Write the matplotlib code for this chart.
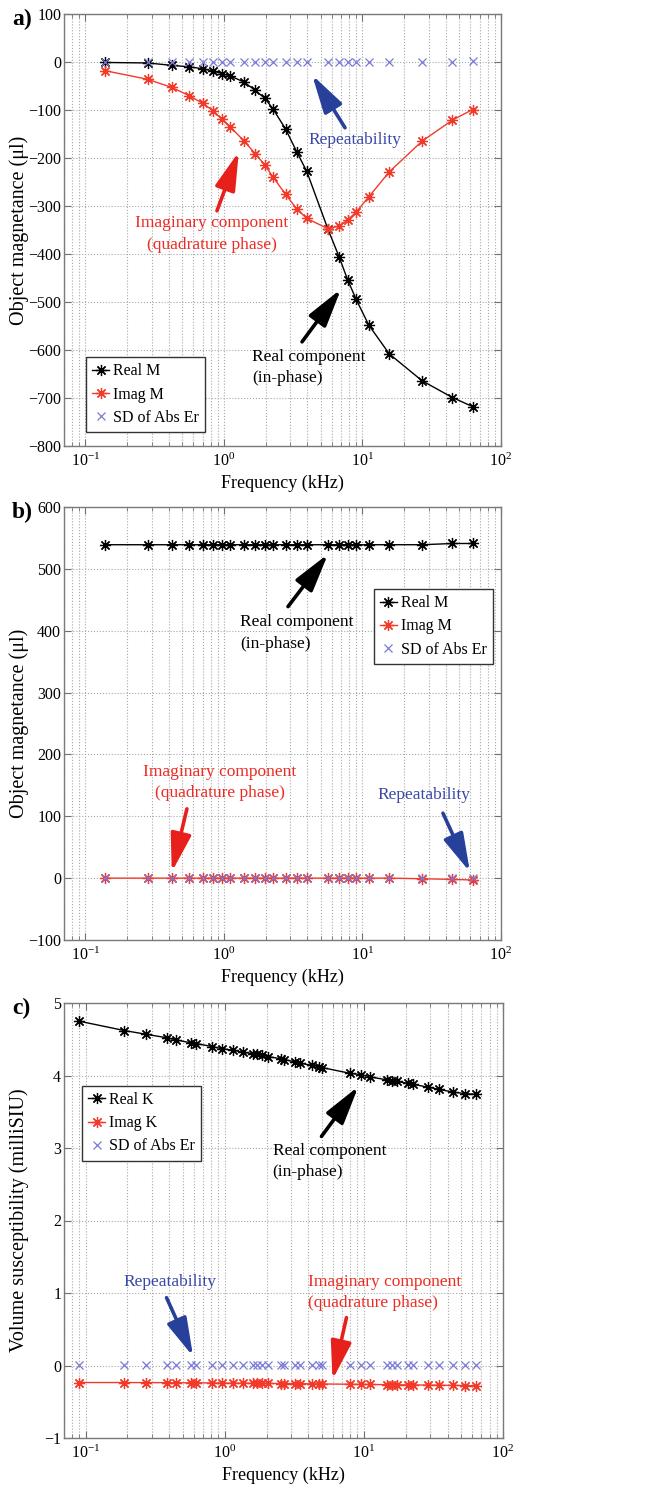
import numpy as np
import matplotlib
matplotlib.use('Agg')
import matplotlib.pyplot as plt
from matplotlib.lines import Line2D

plt.rcParams['font.family'] = ['Liberation Serif', 'DejaVu Serif']
plt.rcParams['mathtext.fontset'] = 'stix'

# --- data (kHz) ---
freq_ab = [0.138, 0.281, 0.42, 0.56, 0.70, 0.84, 0.96, 1.11, 1.40, 1.68, 1.98, 2.25,
           2.79, 3.35, 3.96, 5.61, 6.78, 7.82, 8.98, 11.1, 15.6, 26.9, 44.6, 62.5]

real_a = [-1, -2, -7, -10, -14, -19, -24, -29, -42, -59, -76, -97,
          -140, -187, -228, -347, -406, -454, -494, -548, -608, -664, -699, -718]
imag_a = [-18, -36, -53, -70, -86, -102, -119, -135, -165, -191, -215, -239,
          -276, -306, -326, -347, -342, -329, -313, -281, -229, -165, -121, -99]
sd_a = [1, 1, 1, 1, 1, 1, 1, 1, 1, 1, 1, 1,
        1, 1, 1, 1, 1, 1, 1, 1, 1, 1, 1, 2]

real_b = [539, 539, 539, 539, 539, 539, 539, 539, 539, 539, 539, 539,
          539, 539, 539, 539, 539, 539, 539, 539, 539, 539, 541, 541]
imag_b = [0, 0, 0, 0, 0, 0, 0, 0, 0, 0, 0, 0,
          0, 0, 0, 0, 0, 0, 0, 0, 0, -1, -2, -3]
sd_b = [0, 0, 0, 0, 0, 0, 0, 0, 0, 0, 0, 0,
        0, 0, 0, 0, 0, 0, 0, 0, 0, 0, 0, 0]

freq_c = [0.0897, 0.19, 0.27, 0.385, 0.45, 0.573, 0.627, 0.807, 0.95, 1.15, 1.35, 1.61,
          1.71, 1.85, 2.06, 2.55, 2.66, 3.18, 3.45, 4.23, 4.80, 4.99, 7.97, 9.57,
          11.15, 14.6, 15.96, 17.3, 20.7, 22.4, 28.7, 34.5, 43.9, 53.6, 63.9]
real_c = [4.75, 4.62, 4.57, 4.52, 4.49, 4.45, 4.44, 4.40, 4.37, 4.35, 4.32, 4.30,
          4.29, 4.28, 4.26, 4.23, 4.22, 4.19, 4.17, 4.14, 4.12, 4.11, 4.03, 4.01,
          3.98, 3.94, 3.93, 3.92, 3.89, 3.88, 3.84, 3.81, 3.77, 3.75, 3.74]
imag_c = [-0.235, -0.235, -0.236, -0.237, -0.238, -0.239, -0.239, -0.241, -0.242, -0.244, -0.245, -0.246,
          -0.247, -0.247, -0.248, -0.249, -0.249, -0.250, -0.251, -0.253, -0.254, -0.255, -0.258, -0.260,
          -0.262, -0.264, -0.265, -0.266, -0.268, -0.268, -0.270, -0.272, -0.275, -0.277, -0.280]
sd_c = [0.01] * 35

BLACK = 'black'
RED = '#f23a2a'
SD_BLUE = '#7a7ad8'
ARROW_RED = '#e8201c'
ARROW_BLUE = '#27409a'
TXT_RED = '#ee2a22'
TXT_BLUE = '#3a48a8'
STAR = (8, 2, 0)

W, H = 648, 1488
fig = plt.figure(figsize=(W / 100, H / 100), dpi=100)


def px_axes(x0, y0, x1, y1):
    return fig.add_axes([x0 / W, 1 - y1 / H, (x1 - x0) / W, (y1 - y0) / H])


def style_axes(ax, ylim, yticks, ylabel):
    ax.set_xscale('log')
    ax.set_xlim(0.07, 100)
    ax.set_ylim(*ylim)
    ax.set_yticks(yticks)
    ax.set_xticks([0.1, 1, 10, 100])
    ax.grid(True, which='major', axis='both', ls=':', color='#a8a8a8', lw=0.8)
    ax.grid(True, which='minor', axis='x', ls=':', color='#a8a8a8', lw=0.8)
    ax.tick_params(which='both', direction='in', top=True, right=True,
                   labelsize=11.5, color='#707070')
    ax.tick_params(axis='y', pad=2)
    ax.tick_params(axis='x', pad=5)
    ax.tick_params(which='major', length=5)
    ax.tick_params(which='minor', length=3)
    for s in ax.spines.values():
        s.set_color('#7a7a7a')
        s.set_linewidth(1.0)
    ax.set_xlabel('Frequency (kHz)', fontsize=13, labelpad=3)
    ax.set_ylabel(ylabel, fontsize=14.5)
    ax.yaxis.set_label_coords(-0.079, 0.5)


def draw_series(ax, f, real, imag, sd):
    ax.plot(f, real, color=BLACK, lw=1.0, marker=STAR, ms=8, mew=0.9, zorder=3)
    ax.plot(f, imag, color=RED, lw=1.0, marker=STAR, ms=8, mew=0.9, zorder=3)
    ax.plot(f, sd, ls='none', color=SD_BLUE, marker='x', ms=6, mew=0.9, zorder=4)


def add_legend(ax, names, **kw):
    handles = [
        Line2D([], [], color=BLACK, lw=1.0, marker=STAR, ms=8, mew=0.9),
        Line2D([], [], color=RED, lw=1.0, marker=STAR, ms=8, mew=0.9),
        Line2D([], [], ls='none', color=SD_BLUE, marker='x', ms=6, mew=0.9),
    ]
    leg = ax.legend(handles, names, fontsize=11.5, handlelength=1.05, handletextpad=0.25,
                    labelspacing=0.45, borderpad=0.4, borderaxespad=0, fancybox=False,
                    framealpha=1, **kw)
    leg.get_frame().set_edgecolor('#333333')
    leg.get_frame().set_linewidth(1.0)


def label(ax, text, pos, color, ha='center'):
    ax.text(pos[0], pos[1], text, fontsize=12.5, color=color, ha=ha, va='center',
            linespacing=1.45, zorder=6)


def arrow_only(ax, tip, tail, acolor):
    ax.annotate('', xy=tip, xytext=tail, zorder=6,
                arrowprops=dict(arrowstyle='-|>,head_length=1.3,head_width=0.35',
                                color=acolor, lw=2.6, mutation_scale=18,
                                shrinkA=0, shrinkB=0))


# ---- panel a ----
ax1 = px_axes(64, 14, 501, 446)
draw_series(ax1, freq_ab, real_a, imag_a, sd_a)
style_axes(ax1, (-800, 100), np.arange(-800, 101, 100), 'Object magnetance (μl)')
add_legend(ax1, ['Real M', 'Imag M', 'SD of Abs Er'], loc='lower left',
           bbox_to_anchor=(0.05, 0.032))
label(ax1, 'Repeatability', (8.83, -162), TXT_BLUE)
arrow_only(ax1, (4.33, -27), (7.48, -137), ARROW_BLUE)
label(ax1, 'Imaginary component\n(quadrature phase)', (0.82, -358), TXT_RED)
arrow_only(ax1, (1.28, -187), (0.89, -310), ARROW_RED)
label(ax1, 'Real component\n(in-phase)', (1.59, -637), BLACK, ha='left')
arrow_only(ax1, (7.0, -473), (3.66, -583), BLACK)

# ---- panel b ----
ax2 = px_axes(64, 507, 501, 940)
draw_series(ax2, freq_ab, real_b, imag_b, sd_b)
style_axes(ax2, (-100, 600), np.arange(-100, 601, 100), 'Object magnetance (μl)')
add_legend(ax2, ['Real M', 'Imag M', 'SD of Abs Er'], loc='upper right',
           bbox_to_anchor=(0.982, 0.811))
label(ax2, 'Real component\n(in-phase)', (1.31, 396), BLACK, ha='left')
arrow_only(ax2, (5.64, 524), (2.90, 439), BLACK)
label(ax2, 'Imaginary component\n(quadrature phase)', (0.935, 155), TXT_RED)
arrow_only(ax2, (0.42, 10), (0.54, 112), ARROW_RED)
label(ax2, 'Repeatability', (27.8, 134.5), TXT_BLUE)
arrow_only(ax2, (59.7, 10), (38.1, 105), ARROW_BLUE)

# ---- panel c ----
ax3 = px_axes(64, 1003, 503, 1438)
draw_series(ax3, freq_c, real_c, imag_c, sd_c)
style_axes(ax3, (-1, 5), np.arange(-1, 6, 1), 'Volume susceptibility (milliSIU)')
add_legend(ax3, ['Real K', 'Imag K', 'SD of Abs Er'], loc='upper left',
           bbox_to_anchor=(0.041, 0.81))
label(ax3, 'Real component\n(in-phase)', (2.21, 2.81), BLACK, ha='left')
arrow_only(ax3, (9.14, 3.85), (4.96, 3.16), BLACK)
label(ax3, 'Repeatability', (0.407, 1.146), TXT_BLUE)
arrow_only(ax3, (0.593, 0.125), (0.382, 0.935), ARROW_BLUE)
label(ax3, 'Imaginary component\n(quadrature phase)', (3.94, 1.004), TXT_RED, ha='left')
arrow_only(ax3, (5.95, -0.196), (7.5, 0.66), ARROW_RED)

# panel letters
for lab, ypx in [('a)', 19), ('b)', 512), ('c)', 1008)]:
    fig.text(12 / W, 1 - ypx / H, lab, fontsize=17, fontweight='bold', va='center', ha='left')

fig.savefig('out.png', dpi=100)
